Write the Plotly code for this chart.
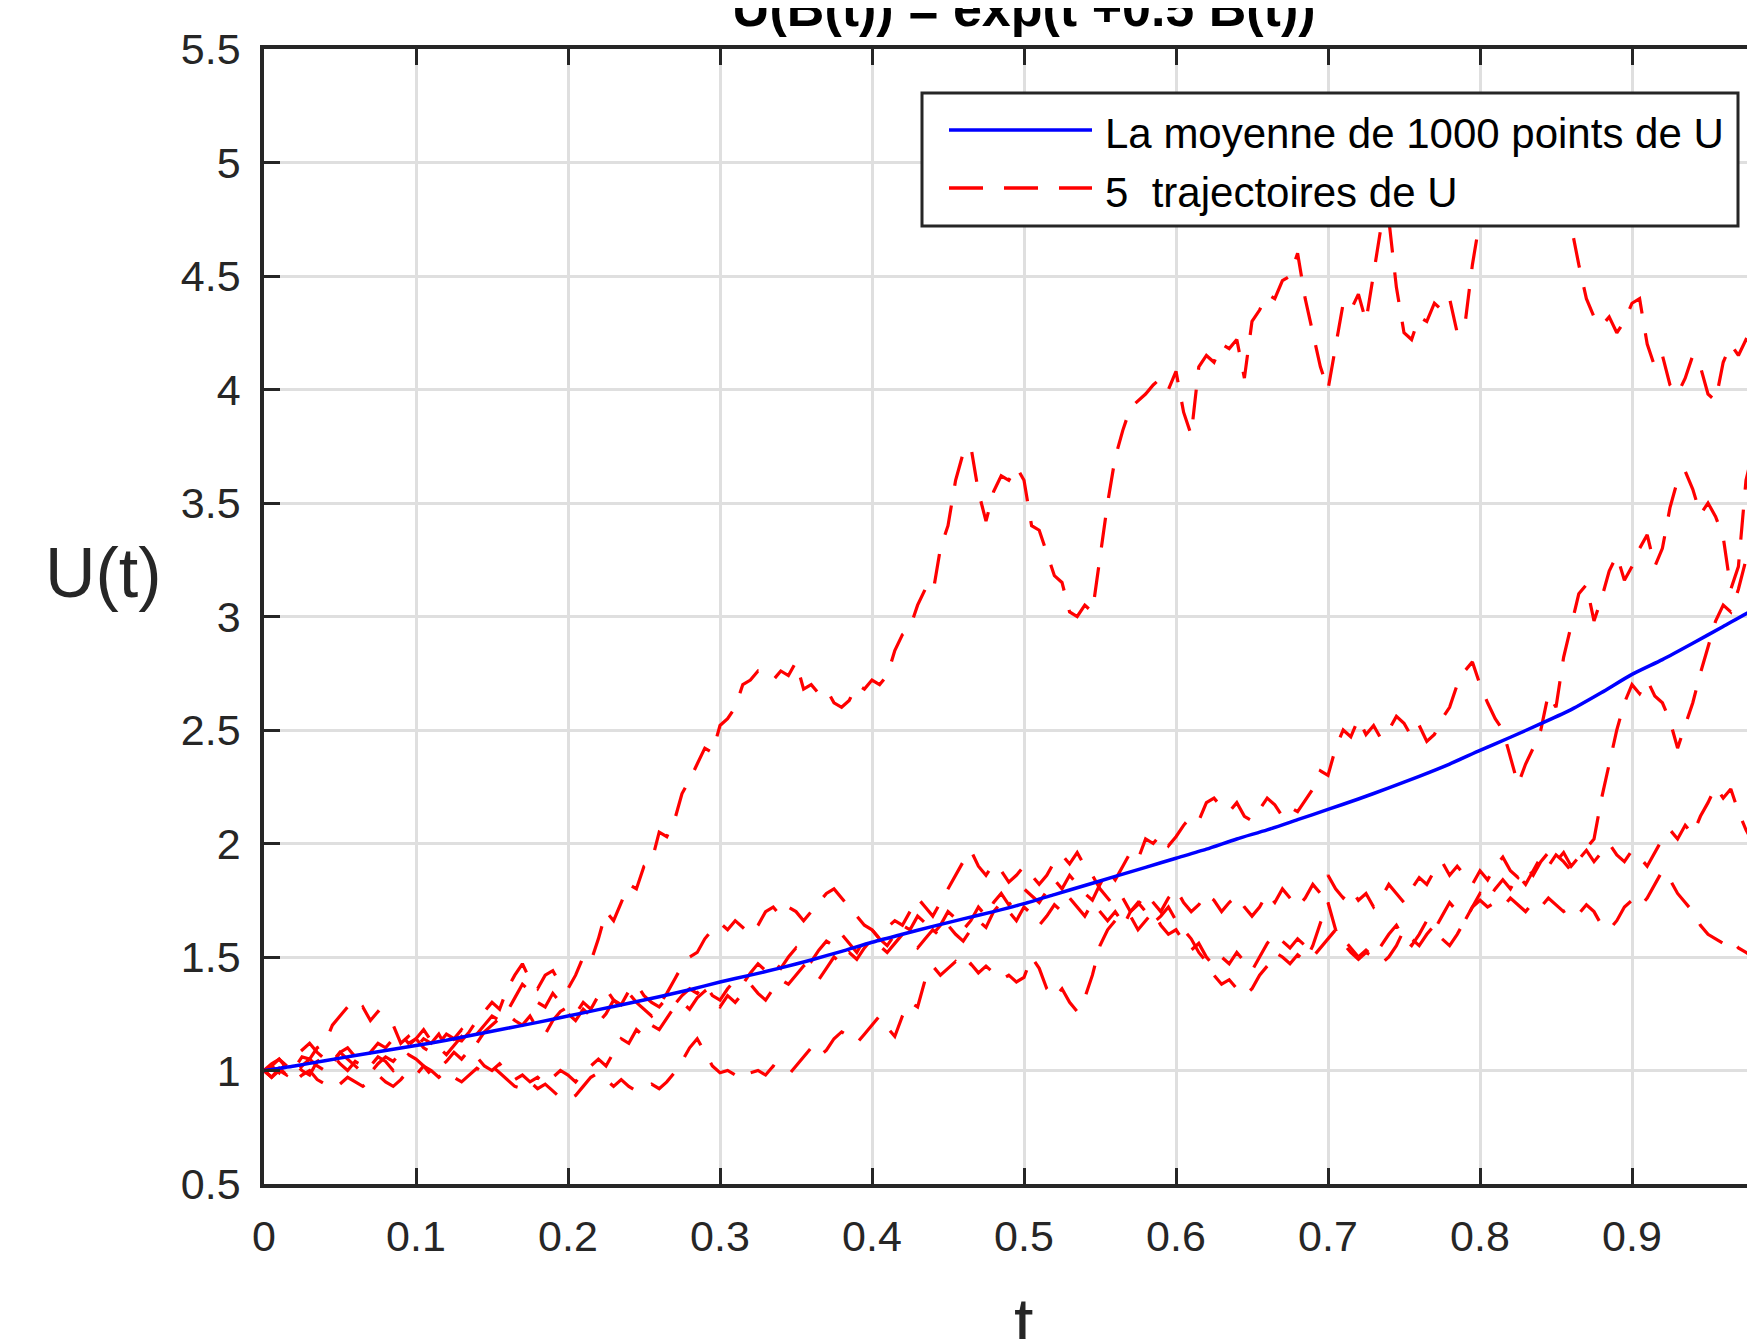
import plotly.graph_objects as go

# ---------------- data ----------------
t_traj = [round(i * 0.005, 3) for i in range(201)]

traj_1 = [1.00, 1.02, 0.99, 1.04, 1.01, 1.06, 1.05, 1.10, 1.12, 1.20,
          1.24, 1.28, 1.25, 1.28, 1.22, 1.26, 1.23, 1.20, 1.12, 1.15,
          1.10, 1.14, 1.12, 1.16, 1.10, 1.14, 1.13, 1.17, 1.22, 1.26,
          1.30, 1.27, 1.36, 1.42, 1.47, 1.40, 1.36, 1.42, 1.44, 1.38,
          1.36, 1.42, 1.50, 1.48, 1.58, 1.70, 1.66, 1.74, 1.82, 1.80,
          1.90, 1.92, 2.05, 2.03, 2.10, 2.22, 2.28, 2.35, 2.42, 2.40,
          2.52, 2.55, 2.60, 2.70, 2.72, 2.76, 2.74, 2.72, 2.76, 2.74,
          2.80, 2.68, 2.70, 2.66, 2.68, 2.62, 2.60, 2.63, 2.70, 2.68,
          2.72, 2.70, 2.74, 2.85, 2.92, 2.95, 3.05, 3.12, 3.10, 3.30,
          3.40, 3.60, 3.72, 3.75, 3.55, 3.42, 3.55, 3.62, 3.60, 3.66,
          3.60, 3.40, 3.38, 3.28, 3.18, 3.15, 3.02, 3.00, 3.05, 3.02,
          3.25, 3.50, 3.70, 3.82, 3.92, 3.95, 3.98, 4.02, 4.05, 4.00,
          4.08, 3.90, 3.80, 4.10, 4.15, 4.12, 4.20, 4.18, 4.22, 4.05,
          4.30, 4.35, 4.42, 4.40, 4.48, 4.50, 4.60, 4.40, 4.25, 4.10,
          4.00, 4.20, 4.38, 4.35, 4.42, 4.30, 4.50, 4.72, 4.75, 4.45,
          4.25, 4.22, 4.32, 4.30, 4.38, 4.35, 4.40, 4.25, 4.28, 4.55,
          4.75, 4.85, 4.95, 5.00, 5.05, 4.98, 5.02, 4.95, 4.90, 4.85,
          4.80, 4.75, 4.72, 4.55, 4.40, 4.32, 4.28, 4.32, 4.25, 4.30,
          4.38, 4.40, 4.20, 4.10, 4.15, 4.02, 3.98, 4.05, 4.15, 4.10,
          3.98, 3.95, 4.12, 4.20, 4.15, 4.22, 4.20, 4.15, 4.10, 4.05,
          4.00]

traj_2 = [1.00, 0.97, 1.00, 0.98, 1.03, 1.00, 0.98, 1.04, 1.06, 1.03,
          1.08, 1.10, 1.06, 1.04, 1.08, 1.12, 1.10, 1.14, 1.16, 1.12,
          1.14, 1.10, 1.08, 1.12, 1.16, 1.14, 1.18, 1.15, 1.12, 1.17,
          1.20, 1.23, 1.25, 1.22, 1.20, 1.24, 1.18, 1.16, 1.22, 1.26,
          1.28, 1.25, 1.30, 1.27, 1.33, 1.36, 1.31, 1.29, 1.35, 1.38,
          1.33, 1.30, 1.28, 1.32, 1.29, 1.33, 1.36, 1.34, 1.38, 1.33,
          1.31, 1.36, 1.40, 1.38, 1.43, 1.47, 1.44, 1.48, 1.45, 1.50,
          1.54, 1.50, 1.48, 1.53, 1.57, 1.55, 1.60, 1.56, 1.52, 1.58,
          1.62, 1.58, 1.55, 1.60, 1.64, 1.62, 1.68, 1.65, 1.60, 1.64,
          1.70, 1.67, 1.62, 1.66, 1.72, 1.68, 1.74, 1.78, 1.73, 1.76,
          1.80, 1.77, 1.74, 1.79, 1.84, 1.80, 1.86, 1.82, 1.78, 1.75,
          1.82, 1.88, 1.84, 1.90, 1.96, 1.93, 2.02, 2.00, 2.04, 1.99,
          2.03, 2.08, 2.12, 2.10, 2.18, 2.20, 2.16, 2.14, 2.18, 2.12,
          2.10, 2.15, 2.20, 2.17, 2.12, 2.16, 2.14, 2.19, 2.24, 2.32,
          2.30, 2.42, 2.50, 2.47, 2.55, 2.48, 2.52, 2.46, 2.50, 2.56,
          2.53, 2.47, 2.52, 2.45, 2.48, 2.55, 2.60, 2.70, 2.76, 2.80,
          2.70, 2.62, 2.55, 2.50, 2.38, 2.26, 2.35, 2.42, 2.50, 2.66,
          2.60, 2.82, 2.96, 3.10, 3.14, 2.98, 3.08, 3.20, 3.27, 3.16,
          3.22, 3.30, 3.36, 3.22, 3.30, 3.48, 3.60, 3.64, 3.56, 3.45,
          3.50, 3.44, 3.35, 3.12, 3.22, 3.60, 3.74, 3.65, 3.70, 3.62,
          3.68]

traj_3 = [1.00, 1.03, 1.05, 1.02, 1.06, 1.09, 1.12, 1.08, 1.05, 1.07,
          1.03, 1.00, 1.04, 1.02, 0.99, 1.03, 1.06, 1.04, 1.08, 1.11,
          1.14, 1.18, 1.13, 1.10, 1.07, 1.11, 1.15, 1.12, 1.16, 1.20,
          1.24, 1.22, 1.26, 1.32, 1.38, 1.35, 1.30, 1.28, 1.34, 1.30,
          1.25, 1.22, 1.27, 1.24, 1.21, 1.25, 1.31, 1.28, 1.34, 1.30,
          1.27, 1.24, 1.29, 1.34, 1.40, 1.46, 1.50, 1.52, 1.58, 1.62,
          1.65, 1.62, 1.66, 1.63, 1.60, 1.64, 1.70, 1.72, 1.68, 1.72,
          1.70, 1.66, 1.70, 1.74, 1.78, 1.80, 1.76, 1.72, 1.68, 1.64,
          1.62, 1.58, 1.63, 1.66, 1.64, 1.70, 1.76, 1.72, 1.68, 1.74,
          1.80, 1.86, 1.92, 1.97, 1.90, 1.86, 1.91, 1.88, 1.83, 1.86,
          1.90, 1.86, 1.82, 1.86, 1.92, 1.95, 1.91, 1.96, 1.90, 1.86,
          1.80, 1.76, 1.72, 1.76, 1.70, 1.73, 1.78, 1.74, 1.70, 1.76,
          1.80, 1.74, 1.70, 1.73, 1.78, 1.75, 1.70, 1.74, 1.77, 1.72,
          1.68, 1.72, 1.78, 1.74, 1.80, 1.76, 1.72, 1.76, 1.82, 1.78,
          1.86, 1.80, 1.76, 1.80, 1.75, 1.78, 1.72, 1.76, 1.82, 1.78,
          1.74, 1.80, 1.85, 1.82, 1.88, 1.92, 1.86, 1.90, 1.86, 1.82,
          1.88, 1.84, 1.90, 1.94, 1.88, 1.85, 1.90, 1.86, 1.92, 1.96,
          1.92, 1.96, 1.90, 1.94, 1.98, 2.02, 2.20, 2.35, 2.50, 2.62,
          2.70, 2.66, 2.72, 2.65, 2.62, 2.54, 2.42, 2.52, 2.62, 2.75,
          2.86, 2.98, 3.05, 3.02, 3.12, 3.25, 3.35, 3.30, 3.38, 3.32,
          3.40]

traj_4 = [1.00, 1.02, 1.05, 1.01, 0.98, 1.02, 1.05, 1.02, 1.00, 1.04,
          1.08, 1.05, 1.02, 0.99, 1.02, 1.06, 1.04, 1.00, 1.03, 1.07,
          1.05, 1.02, 0.98, 1.01, 1.04, 1.08, 1.05, 1.09, 1.06, 1.02,
          1.00, 1.03, 0.99, 0.96, 0.98, 0.95, 0.97, 0.94, 0.97, 1.00,
          0.98, 0.95, 0.99, 1.02, 1.05, 1.02, 1.08, 1.14, 1.12, 1.18,
          1.15, 1.20, 1.18, 1.23, 1.28, 1.30, 1.27, 1.32, 1.35, 1.30,
          1.28, 1.33, 1.30, 1.34, 1.38, 1.34, 1.31, 1.36, 1.40, 1.38,
          1.42, 1.46, 1.42, 1.40, 1.45, 1.50, 1.47, 1.52, 1.49, 1.54,
          1.58, 1.55, 1.52, 1.56, 1.60, 1.57, 1.54, 1.58, 1.62, 1.59,
          1.64, 1.60, 1.57, 1.62, 1.66, 1.63, 1.70, 1.74, 1.70, 1.66,
          1.72, 1.69, 1.64, 1.68, 1.73, 1.70, 1.76, 1.72, 1.68, 1.74,
          1.70, 1.66, 1.70, 1.65, 1.68, 1.62, 1.66, 1.70, 1.64, 1.60,
          1.62, 1.57, 1.53, 1.56, 1.50, 1.46, 1.50, 1.47, 1.52, 1.48,
          1.44, 1.50, 1.56, 1.60, 1.57, 1.54, 1.58, 1.55, 1.50, 1.54,
          1.58, 1.62, 1.58, 1.54, 1.50, 1.53, 1.50, 1.55, 1.60, 1.64,
          1.58, 1.55, 1.60, 1.66, 1.62, 1.68, 1.74, 1.70, 1.66, 1.72,
          1.78, 1.75, 1.80, 1.84, 1.80, 1.86, 1.82, 1.88, 1.94, 1.90,
          1.95, 1.92, 1.88, 1.93, 1.97, 1.92, 1.96, 2.00, 1.95, 1.92,
          1.97, 1.94, 1.90, 1.96, 2.02, 2.06, 2.02, 2.08, 2.04, 2.12,
          2.18, 2.25, 2.20, 2.24, 2.14, 2.06, 2.00, 2.04, 1.98, 2.02,
          1.96]

traj_5 = [1.00, 0.97, 1.01, 0.98, 0.95, 0.98, 1.00, 0.96, 0.94, 0.96,
          0.94, 0.97, 0.95, 0.93, 0.96, 0.98, 0.95, 0.93, 0.96, 1.00,
          0.98, 1.02, 1.00, 0.97, 1.00, 0.97, 0.95, 0.98, 1.01, 0.99,
          1.02, 0.99, 0.96, 0.93, 0.92, 0.95, 0.92, 0.94, 0.91, 0.88,
          0.87, 0.89, 0.93, 0.97, 0.99, 0.96, 0.93, 0.96, 0.93, 0.91,
          0.92, 0.94, 0.92, 0.95, 0.99, 1.04, 1.10, 1.14, 1.08, 1.02,
          0.99, 1.00, 0.98, 1.01, 0.99, 1.00, 0.98, 1.02, 1.00, 0.98,
          1.02, 1.06, 1.10, 1.06, 1.09, 1.14, 1.17, 1.15, 1.12, 1.16,
          1.20, 1.24, 1.19, 1.15, 1.24, 1.30, 1.28, 1.40, 1.46, 1.42,
          1.45, 1.48, 1.44, 1.47, 1.43, 1.46, 1.43, 1.40, 1.42, 1.39,
          1.41, 1.50, 1.45, 1.36, 1.32, 1.36, 1.30, 1.26, 1.32, 1.42,
          1.55, 1.62, 1.66, 1.63, 1.70, 1.74, 1.70, 1.65, 1.68, 1.72,
          1.66, 1.62, 1.58, 1.52, 1.48, 1.42, 1.38, 1.40, 1.36, 1.33,
          1.36, 1.42, 1.46, 1.52, 1.50, 1.47, 1.51, 1.48, 1.55, 1.65,
          1.74, 1.62, 1.56, 1.52, 1.49, 1.52, 1.50, 1.47, 1.50, 1.55,
          1.62, 1.58, 1.55, 1.60, 1.64, 1.58, 1.55, 1.60, 1.66, 1.72,
          1.75, 1.72, 1.74, 1.72, 1.76, 1.73, 1.70, 1.74, 1.72, 1.76,
          1.73, 1.70, 1.72, 1.69, 1.73, 1.70, 1.64, 1.62, 1.66, 1.72,
          1.75, 1.72, 1.76, 1.82, 1.88, 1.84, 1.78, 1.74, 1.70, 1.64,
          1.60, 1.58, 1.56, 1.58, 1.54, 1.52, 1.50, 1.52, 1.49, 1.51,
          1.48]

trajectories = [traj_1, traj_2, traj_3, traj_4, traj_5]

t_mean = [round(i * 0.02, 2) for i in range(51)]
u_mean = [1.000, 1.020, 1.043, 1.066, 1.088, 1.110, 1.133, 1.160, 1.186, 1.212,
          1.240, 1.268, 1.296, 1.325, 1.356, 1.390, 1.420, 1.452, 1.487, 1.525,
          1.565, 1.600, 1.635, 1.668, 1.700, 1.735, 1.775, 1.815, 1.855, 1.895,
          1.935, 1.975, 2.020, 2.060, 2.105, 2.150, 2.196, 2.245, 2.296, 2.350,
          2.410, 2.468, 2.528, 2.590, 2.665, 2.745, 2.810, 2.882, 2.956, 3.030, 3.090]

legend_labels = ["La moyenne de 1000 points de U", "5  trajectoires de U"]
title_text = "U(B(t)) = exp(t +0.5 B(t))"
x_ticks = [0, 0.1, 0.2, 0.3, 0.4, 0.5, 0.6, 0.7, 0.8, 0.9, 1.0]
y_ticks = [0.5, 1, 1.5, 2, 2.5, 3, 3.5, 4, 4.5, 5, 5.5]

# ---------------- figure ----------------
OFF = 8                      # default page margin of the html body
VW, VH = 1755, 1339          # browser window
W, H = VW - OFF, VH - OFF
PL, PT, PB = 264, 49, 1184   # plot frame (window pixels): left, top, bottom
L, T = PL - OFF, PT - OFF
B = H - (PB - OFF)
plot_w = W - L
plot_h = H - T - B
full_w = 1520                # pixel width of t in [0, 1]; right part is cut by the window
x_max = plot_w / full_w

FONT = "Liberation Sans, Arial, Helvetica, sans-serif"
AX = "#262626"
RED = "#ff0000"
BLUE = "#0000ff"

fig = go.Figure()
for tr in trajectories:
    fig.add_trace(go.Scatter(x=t_traj, y=tr, mode="lines",
                             line=dict(color=RED, width=3.2, dash="30px,20px"),
                             showlegend=False, hoverinfo="skip"))
fig.add_trace(go.Scatter(x=t_mean, y=u_mean, mode="lines",
                         line=dict(color=BLUE, width=3.5, shape="spline", smoothing=0.6),
                         showlegend=False, hoverinfo="skip"))

fig.update_layout(
    width=W, height=H,
    margin=dict(l=L, r=0, t=T, b=B, pad=0, autoexpand=False),
    paper_bgcolor="white", plot_bgcolor="white",
    font=dict(family=FONT, color=AX),
    showlegend=False,
)
fig.update_xaxes(range=[0, x_max], tickvals=x_ticks,
                 ticktext=[("%g" % v) for v in x_ticks],
                 showline=True, linecolor=AX, linewidth=3.5, mirror="ticks",
                 ticks="inside", ticklen=16, tickwidth=3, tickcolor=AX,
                 showgrid=True, gridcolor="#dfdfdf", gridwidth=3,
                 zeroline=False, tickfont=dict(size=43, color=AX, family=FONT),
                 ticklabelstandoff=12, automargin=False)
fig.update_yaxes(range=[0.5, 5.5], tickvals=y_ticks,
                 ticktext=[("%g" % v) for v in y_ticks],
                 showline=True, linecolor=AX, linewidth=3.5, mirror=False,
                 ticks="inside", ticklen=16, tickwidth=3, tickcolor=AX,
                 showgrid=True, gridcolor="#dfdfdf", gridwidth=3,
                 zeroline=False, tickfont=dict(size=43, color=AX, family=FONT),
                 ticklabelstandoff=11, automargin=False)

def px_x(p):
    """window x pixel -> paper coordinate"""
    return (p - PL) / plot_w

def px_y(p):
    """window y pixel -> paper coordinate"""
    return 1 - (p - PT) / plot_h

# title (partly cut at the top, as in the reference)
fig.add_annotation(text="<b>" + title_text + "</b>", xref="paper", yref="paper",
                   x=px_x(1024), y=px_y(8), xanchor="center", yanchor="middle",
                   showarrow=False, font=dict(size=52, color="#000000", family=FONT))
# axis labels
fig.add_annotation(text="U(t)", xref="paper", yref="paper",
                   x=px_x(103), y=px_y(573), xanchor="center", yanchor="middle",
                   showarrow=False, font=dict(size=70, color=AX, family=FONT))
fig.add_annotation(text="t", xref="paper", yref="paper",
                   x=px_x(1023), y=px_y(1323), xanchor="center", yanchor="middle",
                   showarrow=False, font=dict(size=70, color=AX, family=FONT))

# legend box drawn by hand (long line samples as in the reference)
fig.add_shape(type="rect", xref="paper", yref="paper",
              x0=px_x(922), x1=px_x(1738), y0=px_y(226), y1=px_y(93),
              fillcolor="white", line=dict(color=AX, width=3), layer="above")
fig.add_shape(type="line", xref="paper", yref="paper",
              x0=px_x(949), x1=px_x(1092), y0=px_y(130), y1=px_y(130),
              line=dict(color=BLUE, width=3.5), layer="above")
fig.add_shape(type="line", xref="paper", yref="paper",
              x0=px_x(949), x1=px_x(1092), y0=px_y(188), y1=px_y(188),
              line=dict(color=RED, width=3.5, dash="34px,21px"), layer="above")
fig.add_annotation(text=legend_labels[0], xref="paper", yref="paper",
                   x=px_x(1103), y=px_y(133), xanchor="left", yanchor="middle",
                   showarrow=False, font=dict(size=42, color="#000000", family=FONT))
fig.add_annotation(text=legend_labels[1], xref="paper", yref="paper",
                   x=px_x(1103), y=px_y(192), xanchor="left", yanchor="middle",
                   showarrow=False, font=dict(size=42, color="#000000", family=FONT))

fig.write_html("out.html")
